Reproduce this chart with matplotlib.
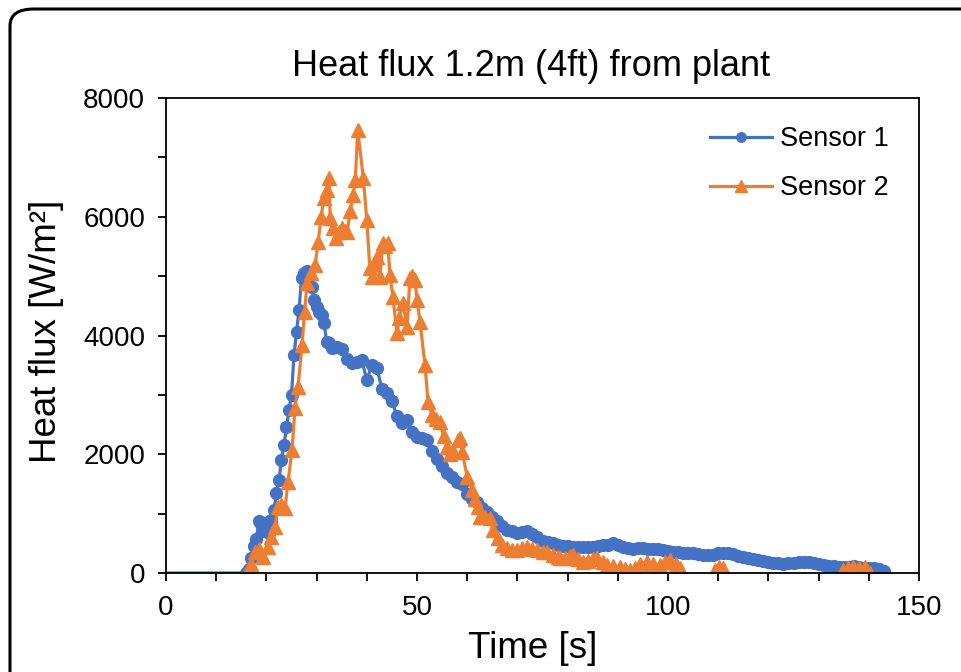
import numpy as np
import matplotlib
matplotlib.use("Agg")
import matplotlib.pyplot as plt
from matplotlib.patches import FancyBboxPatch
from matplotlib.ticker import MultipleLocator

plt.rcParams['font.family'] = ['Liberation Sans', 'DejaVu Sans']

# -------------------------
# datos
# -------------------------
t1 = [0, 16.0, 16.5, 17.0, 17.5, 18.0, 18.5, 19.0, 19.5, 20.0, 20.5, 21.0, 21.5,
      22.0, 22.5, 23.0, 23.5, 24.0, 24.5, 25.0, 25.5, 26.0, 26.5, 27.0, 27.5,
      28.0, 28.5, 29.0, 29.5, 30.0, 30.5, 31.0, 31.5, 32.0, 32.5, 33.0,
      34, 35, 36, 37, 38, 39, 40, 41, 42, 43, 44, 45, 46, 47, 48, 49, 50,
      51, 52, 53, 54, 55, 56, 57, 58, 59, 60, 61, 62, 63, 64, 65, 66, 67,
      68, 69, 70, 71, 72, 73, 74, 75, 76, 77, 78, 79, 80, 81, 82, 83, 84,
      85, 86, 87, 88, 89, 90, 91, 92, 93, 94, 95, 96, 97, 98, 99, 100, 101,
      102, 103, 104, 105, 106, 107, 108, 109, 110, 111, 112, 113, 114, 115,
      116, 117, 118, 119, 120, 121, 122, 123, 124, 125, 126, 127, 128, 129,
      130, 131, 132, 133, 134, 135, 136, 137, 138, 139, 140, 141, 142, 143]
v1 = [0, 0, 60, 250, 450, 580, 870, 820, 700, 840, 670, 900, 1060,
      1350, 1570, 1900, 2160, 2460, 2750, 3000, 3670, 4060, 4430, 4970, 5050,
      5080, 5020, 4820, 4600, 4480, 4400, 4350, 4210, 3890, 3870, 3790,
      3800, 3780, 3600, 3540, 3560, 3590, 3250, 3500, 3460, 3100, 3030, 2900,
      2640, 2530, 2580, 2370, 2290, 2280, 2240, 2060, 1920, 1800, 1680, 1610,
      1540, 1500, 1330, 1250, 1200, 1100, 1020, 950, 880, 800, 730, 700, 670,
      690, 710, 650, 600, 540, 520, 500, 470, 460, 450, 440, 430, 440, 440,
      430, 460, 470, 480, 500, 480, 440, 420, 410, 420, 420, 410, 400, 410,
      390, 370, 350, 350, 340, 330, 340, 320, 300, 300, 310, 330, 340, 340,
      320, 290, 270, 250, 240, 220, 200, 180, 170, 170, 160, 170, 170, 180,
      190, 190, 170, 150, 135, 120, 110, 100, 100, 100, 110, 100, 90, 90, 80,
      60, 30]

t2 = [16.5, 17.0, 17.7, 18.5, 19.3, 20.3, 21.0, 21.7, 22.3, 23.0, 23.7, 24.3,
      25.1, 25.7, 26.3, 27.1, 27.6, 28.1, 28.9, 29.7, 30.3, 30.9, 31.5, 32.0,
      32.5, 32.7, 33.3, 33.9, 34.5, 35.1, 35.6, 36.1, 36.7, 37.3, 37.7, 38.2,
      39.3, 40.0, 40.6, 41.0, 41.5, 42.0, 42.6, 43.2, 43.7, 44.2, 44.6, 45.2,
      46.0, 46.5, 47.2, 48.0, 48.6, 49.1, 49.6, 50.0, 50.6, 51.6, 52.2, 53.0,
      53.8, 54.6, 55.3, 56.0, 56.6, 57.2, 58.2, 58.6, 59.0, 60.0, 61.0, 61.6,
      62.2, 62.5, 63.5, 64.5, 65.1, 66.1, 67.0, 67.9, 69.0, 69.9, 71.0, 71.9,
      73.0, 73.9, 75.0, 75.9, 77.0, 78.0, 78.5, 79.5, 80.5, 81.1, 82.0, 83.1,
      84.0, 85.0, 85.9, 87.0, 87.8, 89.0, 90.4, 91.5, 92.4, 93.5, 94.5, 95.8,
      97.0, 98.4, 99.5, 100.4, 101.5, 102.4, 103.5, 105.0, 107.0, 108.5, 109.4,
      110.2, 111.0, 112.0, 114.0, 118.0, 122.0, 126.0, 130.0, 133.0, 134.2,
      134.9, 135.8, 136.9, 138.0, 139.2, 140.2]
v2 = [0, 150, 350, 400, 270, 440, 600, 780, 1110, 1150, 1090, 1530,
      2070, 2780, 3130, 3840, 4400, 4880, 5050, 5190, 5570, 6000, 6320, 6450,
      6650, 5980, 5810, 5640, 5750, 5810, 5760, 5740, 6100, 6370, 6620, 7460,
      6650, 5950, 5130, 4990, 5200, 5320, 4990, 5560, 5500, 5560, 5020, 4650,
      4040, 4300, 4550, 4140, 4970, 5000, 4930, 4600, 4230, 3500, 2880, 2660,
      2600, 2540, 2300, 2120, 2000, 2050, 2240, 2270, 2040, 1620, 1400, 1250,
      1110, 940, 950, 920, 720, 590, 480, 420, 380, 390, 420, 440,
      400, 390, 360, 350, 300, 270, 250, 260, 290, 300, 240, 190,
      200, 230, 250, 180, 135, 120, 100, 70, 50, 80, 150, 190,
      160, 135, 180, 220, 150, 80, -150, -250, -200, -100, 50,
      100, 80, -100, -250, -300, -300, -300, -250, -200, -50,
      50, 80, 100, 90, 100, 0]

azul = "#4472C4"
naranja = "#ED7D31"

fig = plt.figure(figsize=(9.61, 6.72), dpi=100)
ax = fig.add_axes([166/961, 99/672, 753/961, 475/672])

ax.plot(t1, v1, color=azul, lw=2.3, marker="o", ms=8.5,
        markevery=list(range(1, len(t1))), label="Sensor 1")
ax.plot(t2, v2, color=naranja, lw=2.3, marker="^", ms=10, label="Sensor 2")

ax.set_xlim(0, 150)
ax.set_ylim(0, 8000)
ax.xaxis.set_major_locator(MultipleLocator(50))
ax.xaxis.set_minor_locator(MultipleLocator(10))
ax.yaxis.set_major_locator(MultipleLocator(2000))
ax.yaxis.set_minor_locator(MultipleLocator(1000))
ax.tick_params(which="both", direction="out", width=1.3, length=6,
               labelsize=20, color="black")
ax.tick_params(axis="x", which="both", pad=10)
ax.tick_params(axis="y", which="both", pad=9)
for s in ax.spines.values():
    s.set_linewidth(1.3)

ax.set_title("Heat flux 1.2m (4ft) from plant", fontsize=26, pad=0,
             x=0.485, y=(573 - 66) / 475, va="center")
ax.set_xlabel("Time [s]", fontsize=26.5)
ax.xaxis.set_label_coords((533 - 166) / 753, (573 - 648) / 475)
ax.xaxis.label.set_va("center")
ax.set_ylabel("Heat flux [W/m²]", fontsize=26.5)
ax.yaxis.set_label_coords((47 - 166) / 753, (573 - 331) / 475)
ax.yaxis.label.set_va("center")

leg = ax.legend(loc="upper right", frameon=False, fontsize=19.5, handlelength=2.3,
                handletextpad=0.3, borderaxespad=0.3, labelspacing=0.85,
                bbox_to_anchor=(0.985, 0.98), markerscale=0.8)

# marco redondeado
marco = FancyBboxPatch((10/961, -0.05), 1.1, 1.05 - 9/672,
                       boxstyle="round,pad=0,rounding_size=0.025",
                       transform=fig.transFigure, fill=False, ec="black", lw=2.2,
                       clip_on=False)
fig.patches.append(marco)

fig.savefig("out.png", dpi=100)
